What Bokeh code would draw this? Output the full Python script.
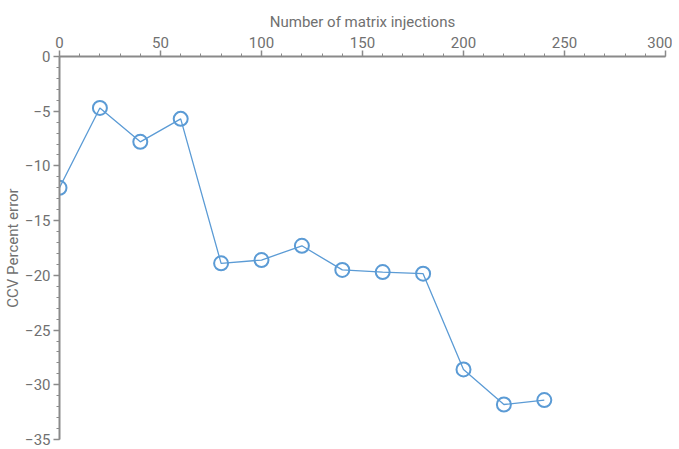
from bokeh.plotting import figure
from bokeh.models import Range1d, SingleIntervalTicker
from bokeh.embed import file_html
from bokeh.resources import INLINE

injections = [0, 20, 40, 60, 80, 100, 120, 140, 160, 180, 200, 220, 240]
percent_error = [-12.0, -4.7, -7.8, -5.7, -18.9, -18.6, -17.3, -19.5, -19.7, -19.85, -28.6, -31.8, -31.4]

FONT = "Roboto"
AX = "#8a8a8a"
TXT = "#707070"
BLUE = "#5b9bd5"

p = figure(width=672, height=449, output_backend="svg", toolbar_location=None,
           x_axis_location="above", x_range=Range1d(0, 300), y_range=Range1d(-35, 0),
           min_border_left=59, min_border_right=7, min_border_top=56, min_border_bottom=10)
p.outline_line_color = None
p.xgrid.visible = False
p.ygrid.visible = False

p.xaxis.ticker = SingleIntervalTicker(interval=50, num_minor_ticks=5)
p.yaxis.ticker = SingleIntervalTicker(interval=5, num_minor_ticks=5)
p.xaxis.axis_label = "Number of matrix injections"
p.yaxis.axis_label = "CCV Percent error"

for ax in (p.xaxis, p.yaxis):
    ax.axis_line_color = AX
    ax.axis_line_width = 2
    ax.major_tick_line_color = AX
    ax.minor_tick_line_color = AX
    ax.major_tick_line_width = 1.5
    ax.minor_tick_line_width = 1
    ax.major_tick_in = 0
    ax.major_tick_out = 6
    ax.minor_tick_in = 0
    ax.minor_tick_out = 3
    ax.major_label_text_font = FONT
    ax.major_label_text_font_size = "15px"
    ax.major_label_text_color = TXT
    ax.axis_label_text_font = FONT
    ax.axis_label_text_font_size = "15px"
    ax.axis_label_text_color = TXT
    ax.axis_label_text_font_style = "normal"
    ax.major_label_standoff = 3
    ax.axis_label_standoff = 3
p.yaxis.axis_label_standoff = 0

p.line(injections, percent_error, line_color=BLUE, line_width=1.3)
p.scatter(injections, percent_error, marker="circle", size=14, fill_color=None,
          line_color=BLUE, line_width=2)

open("out.html", "w").write(file_html(p, INLINE))
